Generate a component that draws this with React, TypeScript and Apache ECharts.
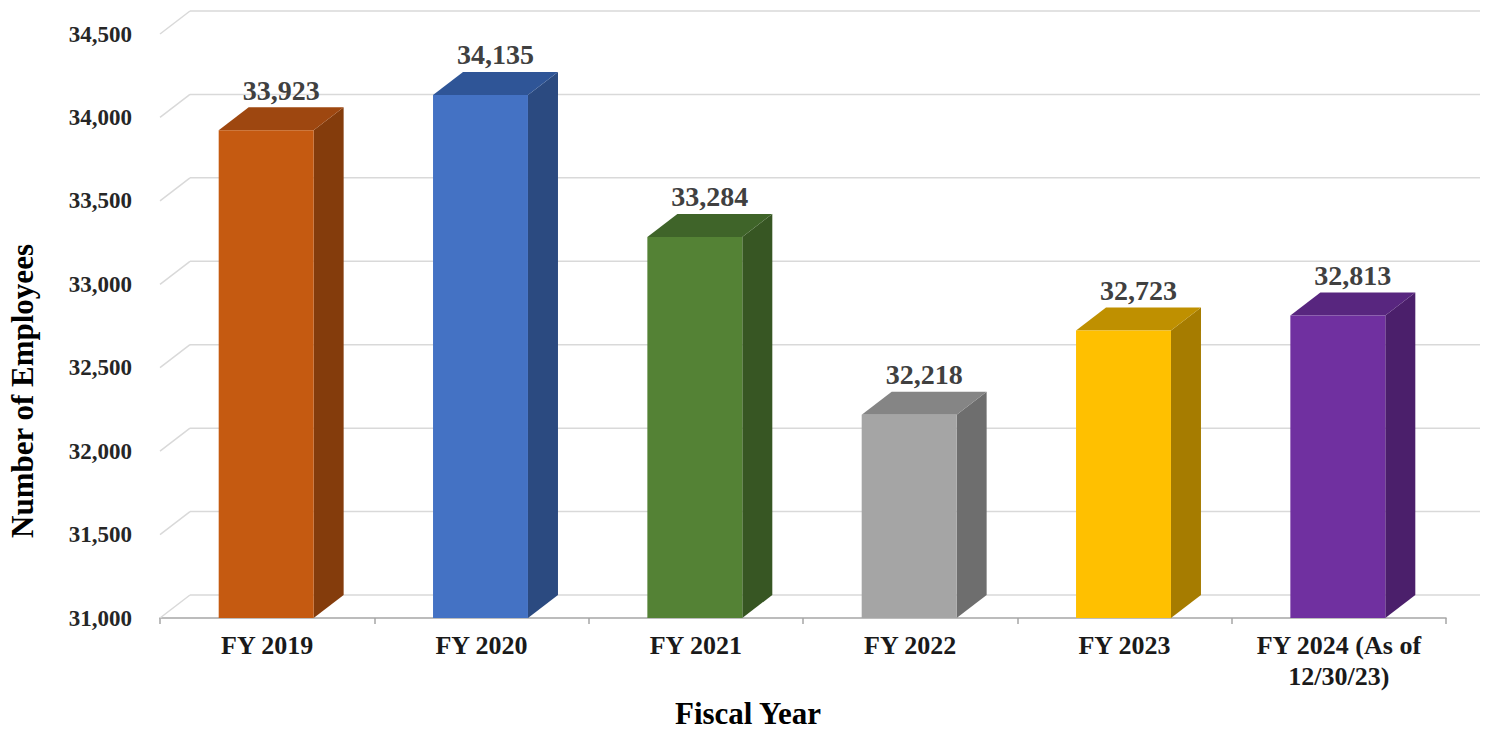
import React, { useEffect, useRef } from "react";
import * as echarts from "echarts";

const categories = ["FY 2019", "FY 2020", "FY 2021", "FY 2022", "FY 2023", "FY 2024 (As of 12/30/23)"];
const employees = [33923, 34135, 33284, 32218, 32723, 32813];
const frontColors = ["#C55A11", "#4472C4", "#548235", "#A5A5A5", "#FFC000", "#7030A0"];
const sideColors = ["#843C0C", "#2B4A80", "#375623", "#6E6E6E", "#A67C00", "#4B1F6B"];
const topColors = ["#9E4710", "#2F5597", "#3F6429", "#858585", "#BF9000", "#58267F"];
const yTicks = [31000, 31500, 32000, 32500, 33000, 33500, 34000, 34500];

const FONT = '"Liberation Serif", "Times New Roman", serif';
const DX = 30;
const DY = -23;

export default function App() {
  const ref = useRef<HTMLDivElement>(null);
  useEffect(() => {
    document.body.style.margin = "0";
    const chart = echarts.init(ref.current!, null, { renderer: "svg" });
    const option: any = {
      animation: false,
      backgroundColor: "#ffffff",
      grid: { left: 160, right: 43, top: 34, bottom: 111 },
      xAxis: {
        type: "category",
        data: categories,
        boundaryGap: true,
        axisLine: { show: true, lineStyle: { color: "#A6A6A6", width: 1.5 } },
        axisTick: { show: true, length: 6, lineStyle: { color: "#A6A6A6", width: 1.5 } },
        axisLabel: {
          interval: 0,
          margin: 12,
          fontFamily: FONT,
          fontWeight: "bold",
          fontSize: 26,
          color: "#1a1a1a",
          lineHeight: 31,
          formatter: (v: string) => v.replace(" (As of ", " (As of\n"),
        },
        splitLine: { show: false },
      },
      yAxis: {
        type: "value",
        min: 31000,
        max: 34500,
        interval: 500,
        axisLine: { show: false },
        axisTick: { show: false },
        splitLine: { show: false },
        axisLabel: {
          margin: 28,
          fontFamily: FONT,
          fontWeight: "bold",
          fontSize: 23,
          color: "#262626",
          formatter: (v: number) => v.toLocaleString("en-US"),
        },
      },
      graphic: [
        {
          type: "text",
          rotation: Math.PI / 2,
          x: 22,
          y: 391,
          style: {
            text: "Number of Employees",
            font: `bold 31px ${FONT}`,
            fill: "#000000",
            textAlign: "center",
            textVerticalAlign: "middle",
          },
        },
        {
          type: "text",
          x: 748,
          y: 713,
          style: {
            text: "Fiscal Year",
            font: `bold 31px ${FONT}`,
            fill: "#000000",
            textAlign: "center",
            textVerticalAlign: "middle",
          },
        },
      ],
      series: [
        {
          type: "custom",
          z: 1,
          silent: true,
          data: yTicks.map((v) => [0, v]),
          renderItem: (params: any, api: any) => {
            const cs = params.coordSys;
            const y = api.coord([0, api.value(1)])[1];
            const x0 = cs.x;
            const x1 = cs.x + cs.width;
            return {
              type: "group",
              children: [
                {
                  type: "line",
                  shape: { x1: x0, y1: y, x2: x0 + DX, y2: y + DY },
                  style: { stroke: "#D9D9D9", lineWidth: 1.5 },
                },
                {
                  type: "line",
                  shape: { x1: x0 + DX, y1: y + DY, x2: x1 + DX + 4, y2: y + DY },
                  style: { stroke: "#D9D9D9", lineWidth: 1.5 },
                },
              ],
            };
          },
        },
        {
          type: "custom",
          z: 3,
          data: employees.map((v, i) => [i, v]),
          renderItem: (params: any, api: any) => {
            const i = api.value(0);
            const val = api.value(1);
            const [cx, yTop] = api.coord([i, val]);
            const yBase = api.coord([i, 31000])[1];
            const w = api.size([1, 0])[0] * 0.443;
            const xl = cx - w / 2 - 1;
            const xr = xl + w;
            return {
              type: "group",
              children: [
                {
                  type: "polygon",
                  shape: { points: [[xr, yTop], [xr + DX, yTop + DY], [xr + DX, yBase + DY], [xr, yBase]] },
                  style: { fill: sideColors[i] },
                },
                {
                  type: "polygon",
                  shape: { points: [[xl, yTop], [xr, yTop], [xr + DX, yTop + DY], [xl + DX, yTop + DY]] },
                  style: { fill: topColors[i] },
                },
                {
                  type: "rect",
                  shape: { x: xl, y: yTop, width: w, height: yBase - yTop },
                  style: { fill: frontColors[i] },
                },
                {
                  type: "text",
                  x: (xl + xr + DX) / 2,
                  y: yTop + DY - 17,
                  style: {
                    text: val.toLocaleString("en-US"),
                    font: `bold 28px ${FONT}`,
                    fill: "#404040",
                    textAlign: "center",
                    textVerticalAlign: "middle",
                  },
                },
              ],
            };
          },
        },
      ],
    };
    chart.setOption(option);
    return () => chart.dispose();
  }, []);
  return <div ref={ref} style={{ width: 1489, height: 729 }} />;
}
